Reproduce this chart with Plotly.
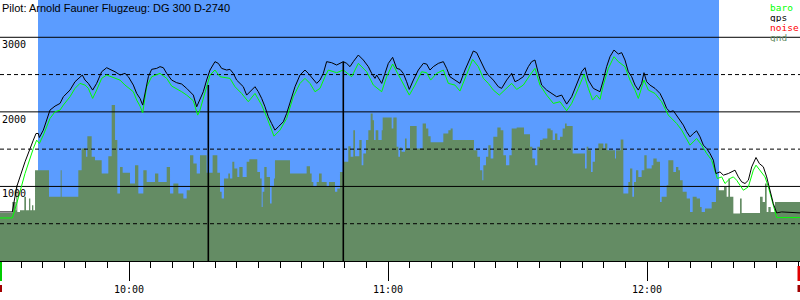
import pandas as pd
import plotly.graph_objects as go

# ---------------- data (times in minutes after 09:30) ----------------
title_text = "Pilot: Arnold Fauner Flugzeug: DG 300 D-2740"

gps_t = [0.1, 2.97, 3.98, 5.91, 7.84, 8.46, 8.99, 9.23, 10.15, 10.93, 11.70, 12.86, 14.02, 14.79,
         16.33, 17.49, 18.65, 19.19, 19.81, 20.58, 21.58, 22.51, 23.67, 24.83, 25.60, 26.76, 27.92,
         29.07, 29.85, 31.00, 31.78, 32.55, 33.17, 33.71, 34.48, 35.25, 36.41, 37.18, 37.95, 38.73,
         39.88, 41.04, 42.20, 43.36, 44.13, 44.90, 45.68, 46.22, 46.44, 47.21, 47.98, 48.76, 49.91,
         50.69, 51.46, 52.62, 53.39, 54.16, 54.93, 55.71, 56.48, 57.25, 58.02, 59.18, 59.95, 60.73,
         61.50, 62.27, 63.04, 63.81, 64.59, 65.75, 66.52, 67.29, 68.45, 69.61, 70.76, 71.54, 72.70,
         73.47, 74.24, 75.01, 75.78, 76.94, 78.10, 78.87, 79.64, 80.42, 81.19, 81.96, 83.12, 84.28,
         85.44, 86.21, 86.98, 87.37, 88.53, 89.30, 90.07, 91.07, 92.00, 92.77, 93.54, 94.31, 94.93,
         95.86, 97.02, 98.18, 98.95, 99.72, 100.49, 101.65, 102.81, 103.58, 104.35, 105.51, 106.67,
         107.83, 108.99, 109.76, 110.53, 111.30, 112.46, 113.23, 114.39, 115.55, 116.32, 117.48,
         118.64, 119.41, 120.18, 121.34, 122.50, 123.27, 124.04, 124.82, 125.59, 126.75, 127.90,
         129.06, 130.22, 131.38, 132.54, 133.70, 134.86, 135.63, 136.40, 137.56, 139.10, 139.87,
         140.64, 141.42, 142.34, 143.35, 144.12, 144.89, 145.66, 146.44, 147.21, 147.98, 148.75,
         149.29, 149.91, 150.68, 151.84, 153.00, 153.77, 154.54, 155.32, 156.09, 156.86, 157.63,
         158.41, 159.18, 159.95, 160.72, 161.49, 162.27, 163.04, 163.81, 164.58, 165.36, 165.97,
         166.90, 167.67, 168.83, 169.60, 170.37, 171.15, 171.92, 172.69, 173.46, 174.24, 175.24,
         176.01, 176.94, 177.71, 178.48, 179.25, 180.03, 181.18, 185.43]
gps_alt = [658, 658, 994, 1330, 1621, 1710, 1710, 1656, 1755, 1889, 2024, 2077, 2113, 2203,
           2292, 2404, 2471, 2494, 2426, 2382, 2292, 2382, 2538, 2592, 2570, 2538, 2494,
           2516, 2471, 2359, 2247, 2180, 2091, 2247, 2471, 2570, 2583, 2606, 2592, 2516,
           2426, 2391, 2373, 2315, 2270, 2225, 2068, 2144, 2158, 2270, 2426, 2561, 2673,
           2650, 2583, 2561, 2570, 2516, 2426, 2382, 2337, 2225, 2270, 2337, 2270, 2180,
           2068, 1934, 1844, 1755, 1800, 1867, 1979, 2135, 2337, 2494, 2561, 2516, 2426,
           2382, 2426, 2516, 2673, 2659, 2628, 2650, 2673, 2650, 2606, 2673, 2762, 2695,
           2606, 2516, 2449, 2494, 2382, 2516, 2650, 2731, 2583, 2570, 2516, 2404, 2301,
           2426, 2561, 2650, 2641, 2561, 2606, 2650, 2673, 2583, 2471, 2426, 2382,
           2561, 2717, 2816, 2794, 2695, 2561, 2494, 2426, 2337, 2315, 2426,
           2516, 2404, 2426, 2471, 2606, 2673, 2695, 2516, 2359, 2292, 2247,
           2203, 2225, 2104, 2203, 2382, 2538, 2592, 2426, 2315, 2270, 2426,
           2606, 2740, 2829, 2776, 2794, 2695, 2538, 2471, 2359, 2292, 2382,
           2525, 2404, 2359, 2315, 2247, 2158, 2046, 2001, 2015, 1956, 1889,
           1822, 1733, 1665, 1710, 1746, 1665, 1554, 1509, 1442, 1352, 1173,
           1195, 1151, 1173, 1195, 1218, 1128, 1061, 1039, 1083, 1262, 1388,
           1307, 1262, 1128, 949, 770, 645, 658, 645]

baro_t = [0.1, 2.97, 3.98, 5.91, 7.84, 8.61, 9.23, 10.15, 11.70, 12.86, 14.02, 14.79, 16.33,
          17.49, 18.65, 19.81, 20.58, 21.58, 22.51, 23.67, 24.83, 26.76, 27.92, 29.07, 31.00,
          31.78, 32.55, 33.17, 34.09, 35.25, 37.18, 38.73, 39.88, 42.20, 43.36, 44.90, 45.91,
          46.44, 48.76, 49.91, 51.07, 53.39, 54.55, 56.09, 57.64, 59.18, 60.73, 61.88, 63.58,
          64.97, 66.52, 68.06, 69.61, 70.76, 71.92, 73.08, 74.24, 75.40, 76.17, 78.10, 79.64,
          81.58, 83.12, 85.05, 86.60, 88.53, 89.68, 91.07, 92.77, 94.93, 96.24, 97.79, 98.95,
          99.87, 101.26, 102.81, 103.97, 105.51, 106.67, 108.21, 109.60, 110.92, 112.08, 113.23,
          114.39, 115.78, 117.48, 118.64, 119.80, 121.34, 122.89, 124.04, 125.20, 126.75, 128.29,
          129.84, 131.38, 132.54, 134.08, 135.40, 136.40, 137.40, 138.33, 139.10, 139.87, 141.03,
          142.34, 143.35, 144.89, 146.05, 147.21, 147.98, 149.29, 150.30, 151.84, 153.39, 154.93,
          155.70, 156.86, 158.02, 159.95, 161.49, 162.65, 163.81, 164.97, 166.28, 167.29, 168.06,
          169.22, 169.99, 170.76, 171.53, 172.31, 173.46, 174.62, 175.24, 176.17, 177.32, 178.10,
          178.87, 179.64, 180.03, 185.43]
baro_alt = [577, 577, 770, 1173, 1509, 1621, 1576, 1688, 1912, 2001, 2024, 2091, 2203,
            2315, 2382, 2359, 2315, 2180, 2292, 2449, 2494, 2449, 2426, 2359, 2270,
            2158, 2077, 1988, 2337, 2471, 2516, 2449, 2346, 2270, 2225, 2149, 1956,
            2024, 2494, 2561, 2471, 2449, 2337, 2247, 2136, 2247, 2091, 1934, 1674,
            1755, 1912, 2203, 2382, 2449, 2382, 2270, 2315, 2471, 2561, 2525, 2561,
            2471, 2650, 2538, 2359, 2270, 2471, 2641, 2449, 2225, 2359, 2538, 2525,
            2426, 2516, 2561, 2382, 2359, 2279, 2494, 2704, 2606, 2449, 2382,
            2292, 2225, 2315, 2382, 2301, 2359, 2494, 2583, 2359, 2225, 2113,
            2136, 2015, 2113, 2315, 2503, 2315, 2158, 2225, 2167, 2359, 2583,
            2740, 2673, 2606, 2426, 2292, 2180, 2426, 2292, 2247, 2136, 1956,
            1912, 1844, 1755, 1554, 1643, 1554, 1442, 1352, 1106, 1128, 1039,
            1106, 1128, 1083, 1016, 949, 994, 1218, 1285, 1218, 1128, 994,
            815, 636, 582, 582]

gnd_t = [0.1, 2.97, 3.75, 3.90, 4.13, 4.75, 5.75, 6.14, 6.83, 7.14, 7.53, 7.84, 8.23, 11.47, 14.17,
         14.40, 18.26, 19.03, 20.04, 20.35, 21.35, 22.12, 23.67, 25.21, 25.99, 26.76, 27.30, 27.92,
         28.53, 30.23, 31.39, 32.16, 33.32, 34.09, 36.02, 36.79, 38.73, 39.50, 40.27, 41.43, 42.59,
         43.36, 44.13, 44.90, 45.68, 46.44, 47.98, 49.37, 50.46, 51.07, 51.46, 52.00, 53.00, 53.39,
         53.93, 54.39, 55.09, 55.55, 56.32, 57.25, 57.87, 59.72, 60.34, 60.73, 60.96, 61.34, 61.88,
         62.66, 63.04, 63.58, 63.81, 67.29, 71.15, 71.92, 72.31, 72.70, 73.47, 74.01, 74.63, 75.78,
         76.32, 77.71, 78.25, 78.87, 79.64, 80.80, 81.34, 81.96, 82.35, 83.35, 83.89, 84.28, 84.90,
         85.44, 85.98, 86.44, 86.75, 87.14, 87.75, 88.53, 88.76, 90.84, 91.23, 92.00, 92.39, 92.77,
         93.16, 93.93, 94.31, 95.09, 96.63, 98.02, 98.79, 99.33, 99.87, 102.81, 103.97, 104.51,
         104.97, 109.91, 110.69, 111.30, 111.84, 112.08, 112.69, 113.23, 113.77, 114.39, 115.32,
         116.09, 116.71, 117.33, 118.10, 118.64, 119.80, 121.50, 122.89, 123.43, 124.04, 124.58,
         125.20, 125.82, 126.90, 127.67, 128.14, 128.68, 129.22, 129.84, 130.45, 131.00, 131.38,
         132.77, 135.63, 136.01, 136.40, 137.02, 137.40, 137.94, 138.72, 139.10, 139.87, 140.26,
         140.80, 142.57, 142.81, 143.89, 144.51, 145.66, 146.05, 146.59, 146.98, 147.44, 147.98,
         148.75, 149.37, 149.91, 151.07, 151.46, 152.23, 153.00, 153.39, 154.54, 154.93, 156.09,
         156.71, 157.25, 157.63, 158.25, 159.18, 159.95, 160.57, 161.49, 162.27, 162.65, 163.42,
         164.97, 165.97, 166.51, 167.83, 168.44, 168.83, 169.22, 169.99, 171.53, 171.92, 176.17,
         176.78, 177.32, 177.71, 178.10, 178.64, 179.64, 185.43]
gnd_alt = [645, 792, 680, 1016, 658, 680, 860, 680, 837, 680, 748, 680, 1218, 860, 1218,
           860, 1218, 1509, 1397, 1674, 1397, 1352, 1173, 1406, 2091, 1621, 904, 1262,
           1182, 1039, 1285, 904, 1218, 1061, 1173, 1061, 1262, 904, 1039, 904, 837,
           949, 1419, 1307, 1173, 1419, 1182, 1419, 1182, 927, 837, 1106, 1173, 1106,
           1330, 1240, 1128, 1262, 1128, 1330, 1365, 1195, 1106, 725, 927, 1262, 1128,
           770, 994, 1106, 1352, 1173, 1271, 1173, 1061, 994, 1061, 1173, 1061, 994,
           1061, 927, 971, 1195, 1330, 1540, 1397, 1755, 1406, 1621, 1285, 1442, 1621,
           1755, 1979, 1889, 1621, 1755, 1621, 1755, 1925, 1777, 1925, 1531, 1397, 1522,
           1464, 1643, 1509, 1809, 1509, 1844, 1777, 1674, 1594, 1710, 1755, 1777,
           1621, 1486, 1397, 1218, 1083, 1285, 1397, 1553, 1374, 1665, 1791,
           1755, 1419, 1285, 1419, 1777, 1791, 1701, 1531, 1374, 1285, 1531,
           1621, 1643, 1777, 1755, 1621, 1710, 1621, 1665, 1777, 1844, 1809,
           1442, 1240, 1531, 1486, 1195, 1330, 1509, 1576, 1576, 1509, 1576,
           1486, 1374, 1486, 1630, 904, 1061, 1240, 860, 1061, 1218, 1128,
           1218, 1419, 1240, 1285, 1374, 1330, 792, 860, 1016, 1352, 1195,
           1262, 1218, 1083, 927, 837, 658, 860, 837, 725, 658, 703,
           792, 994, 949, 994, 860, 1106, 860, 636, 837, 645, 860,
           792, 1039, 658, 725, 658, 792, 792]

task_window = [8.92, 166.67]          # blue task band (min after 09:30)
event_t = [48.37, 79.64]              # vertical event markers
event_alt = [2360, 2673]
view = [0.116, 185.43]                # visible time span

y_solid = [1000, 2000, 3000]
y_dashed = [500, 1500, 2500]
y_labels = ["1000", "2000", "3000"]
legend_items = ["baro", "gps", "noise", "gnd"]
legend_colors = ["#00ff00", "#000000", "#ff0000", "#648c64"]

# ---------------- helpers ----------------
base = pd.Timestamp("2000-01-01 09:30:00")
def tt(mins):
    return [base + pd.Timedelta(minutes=m) for m in mins]

MONO = "DejaVu Sans Mono"
GND = "#648c64"
BLUE = "#5b9cff"

fig = go.Figure()

# terrain
fig.add_trace(go.Scatter(x=tt(gnd_t), y=gnd_alt, mode="lines", line=dict(width=0, color=GND, shape="hv"),
                         fill="tozeroy", fillcolor=GND, hoverinfo="skip"))

# grid lines (above terrain)
vx = tt(view)
for v in y_solid:
    fig.add_trace(go.Scatter(x=vx, y=[v, v], mode="lines", line=dict(color="black", width=1), hoverinfo="skip"))
for v in y_dashed:
    fig.add_trace(go.Scatter(x=vx, y=[v, v], mode="lines",
                             line=dict(color="black", width=1, dash="4px,3px"), hoverinfo="skip"))

# barogram
fig.add_trace(go.Scatter(x=tt(baro_t), y=baro_alt, mode="lines", line=dict(color="#00ff00", width=1)))
fig.add_trace(go.Scatter(x=tt(gps_t), y=gps_alt, mode="lines", line=dict(color="black", width=1)))

# event markers
ex, ey = [], []
for t, a in zip(tt(event_t), event_alt):
    ex += [t, t, None]
    ey += [0, a, None]
fig.add_trace(go.Scatter(x=ex, y=ey, mode="lines", line=dict(color="black", width=1.6)))

ann = []
ann.append(dict(x=0, y=1, xref="paper", yref="paper", xanchor="left", yanchor="top", showarrow=False,
                text=title_text, font=dict(family="Liberation Sans", size=11, color="black")))
for v, lab in zip(y_solid, y_labels):
    ann.append(dict(x=0, y=v, xref="paper", yref="y", xanchor="left", yanchor="top", showarrow=False,
                    text=lab, font=dict(family=MONO, size=10, color="black"), yshift=0))
for i, (lab, col) in enumerate(zip(legend_items, legend_colors)):
    ann.append(dict(x=769 / 800, y=1 - (7 + 10 * i) / 261, xref="paper", yref="paper", xanchor="left",
                    yanchor="middle", showarrow=False, text=lab, height=10, borderpad=0,
                    font=dict(family=MONO, size=9.5, color=col)))

shapes = [
    dict(type="rect", layer="below", xref="x", yref="paper", x0=tt([task_window[0]])[0],
         x1=tt([task_window[1]])[0], y0=0, y1=1, fillcolor=BLUE, line=dict(width=0)),
    dict(type="rect", xref="paper", yref="paper", x0=0, x1=2 / 800, y0=-20 / 261, y1=-1 / 261,
         fillcolor="#00cc00", line=dict(width=0)),
    dict(type="rect", xref="paper", yref="paper", x0=0, x1=2 / 800, y0=-31 / 261, y1=-24 / 261,
         fillcolor="#a00000", line=dict(width=0)),
    dict(type="rect", xref="paper", yref="paper", x0=797.5 / 800, x1=1, y0=-20 / 261, y1=-5 / 261,
         fillcolor="#e00000", line=dict(width=0)),
    dict(type="rect", xref="paper", yref="paper", x0=797.5 / 800, x1=1, y0=-31 / 261, y1=-24 / 261,
         fillcolor="#a00000", line=dict(width=0)),
]

fig.update_layout(
    width=800, height=300, margin=dict(l=0, r=0, t=0, b=39),
    paper_bgcolor="white", plot_bgcolor="white", showlegend=False,
    annotations=ann, shapes=shapes,
    xaxis=dict(type="date", range=vx, showgrid=False, zeroline=False, showline=True, linecolor="black",
               linewidth=1, ticks="outside", ticklen=19, tickwidth=1, tickcolor="black",
               dtick=3600000, tick0="2000-01-01 00:00:00", tickformat="%H:%M",
               tickfont=dict(family=MONO, size=10, color="black"),
               minor=dict(dtick=300000, ticks="outside", ticklen=6, tickwidth=1, tickcolor="black",
                          showgrid=False)),
    yaxis=dict(range=[0, 3500], showgrid=False, zeroline=False, showticklabels=False, showline=False,
               fixedrange=True),
)

fig.write_html("out.html")
